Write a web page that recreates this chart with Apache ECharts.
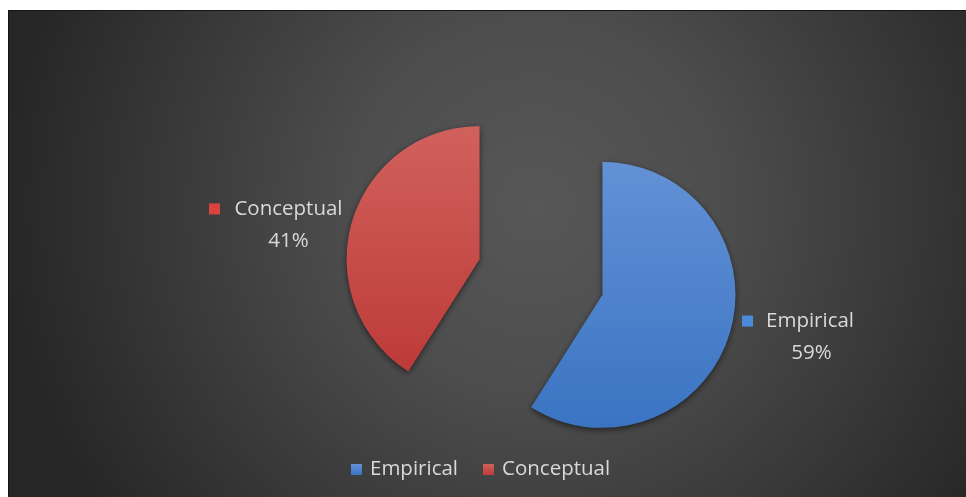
<!DOCTYPE html>
<html>
<head>
<meta charset="utf-8">
<script src="https://cdn.jsdelivr.net/npm/echarts@6/dist/echarts.min.js"></script>
<style>
    html, body { margin:0; padding:0; background:#fff; }
    #frame { position:absolute; left:8px; top:10px; width:957px; height:486px; border-top:1px solid #151515; border-left:1px solid #151515; }
    #chart { width:957px; height:486px; }
</style>
</head>
<body>
<div id="frame"><div id="chart"></div></div>
<script>
let categories = ['Empirical', 'Conceptual'];
let shares = [59, 41];
let colorTop = ['#6391d6', '#d1615d'];
let colorBottom = ['#3a74c2', '#bd3b38'];
let keyColors = ['#4a8bdc', '#d9433f'];

const FONT = 'Open Sans';
const SIZE = 20.5;

// width of a category name, so the percent line can be centred under it
let ctx = document.createElement('canvas').getContext('2d');
ctx.font = SIZE + 'px "' + FONT + '"';

let myChart = echarts.init(document.getElementById('chart'));

let seriesData = categories.map((name, i) => {
    let w = Math.ceil(ctx.measureText(name).width) + 2;
    return {
        name,
        value: shares[i],
        selected: true,
        itemStyle:{
            color:{
                type:'linear', x:0, y:0, x2:0, y2:1,
                colorStops:[
                    { offset:0, color:colorTop[i] },
                    { offset:1, color:colorBottom[i] }
                ]
            }
        },
        label:{
            formatter: '{k|}{g|}{n|{b}}\n{s|}{g|}{p|{c}%}',
            rich:{
                k:{ width:11, height:11, backgroundColor:keyColors[i] },
                s:{ width:11, height:11 },
                g:{ width:13 },
                n:{ width:w, align:'left', color:'#d9d9d9', fontFamily:FONT, fontSize:SIZE },
                p:{ width:w, align:'center', color:'#d9d9d9', fontFamily:FONT, fontSize:SIZE }
            }
        }
    };
});

let option = {
    animation:false,
    backgroundColor:{
        type:'radial', x:0.55, y:0.4, r:1.1,
        colorStops:[
            { offset:0, color:'#575757' },
            { offset:0.35, color:'#4d4d4d' },
            { offset:1, color:'#262626' }
        ]
    },
    color:keyColors,
    legend:{
        bottom:12,
        left:337,
        icon:'rect',
        itemWidth:11,
        itemHeight:11,
        itemGap:25,
        selectedMode:false,
        data:categories,
        textStyle:{
            color:'#d9d9d9',
            fontFamily:FONT,
            fontSize:SIZE,
            padding:[0,0,0,3]
        }
    },
    series:[
        {
            type:'pie',
            center:[532, 266],
            radius:133,
            startAngle:90,
            clockwise:true,
            selectedMode:'multiple',
            selectedOffset:64,
            avoidLabelOverlap:false,
            emphasis:{ disabled:true },
            itemStyle:{
                shadowBlur:6,
                shadowColor:'rgba(0,0,0,0.55)',
                shadowOffsetY:2
            },
            label:{
                show:true,
                position:'outside',
                color:'#d9d9d9',
                fontFamily:FONT,
                fontSize:SIZE,
                lineHeight:32
            },
            labelLine:{ show:false, length:4, length2:0 },
            labelLayout:function(params){
                return { dx: params.dataIndex === 1 ? 1 : 3, dy: 4 };
            },
            data:seriesData
        }
    ]
};
myChart.setOption(option);
</script>
</body>
</html>
